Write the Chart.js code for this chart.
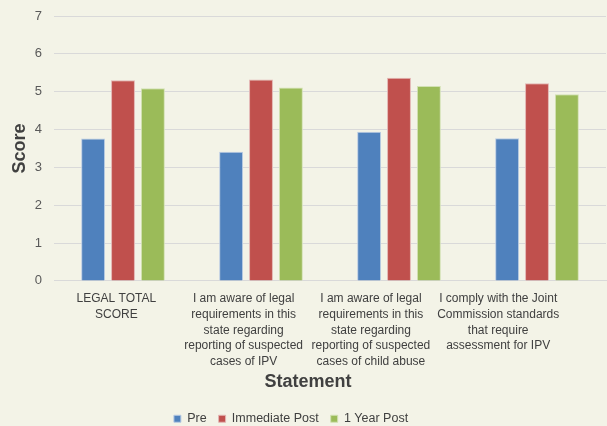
<!DOCTYPE html>
<html>
<head>
<meta charset="utf-8">
<script src="https://cdn.jsdelivr.net/npm/chart.js@4/dist/chart.umd.min.js"></script>
<style>
html,body{margin:0;padding:0;background:#f3f3e7;}
#wrap{width:607px;height:426px;position:relative;}
</style>
</head>
<body>
<div id="wrap"><canvas id="c" width="607" height="426"></canvas></div>
<script>
const categories = [
  ["LEGAL TOTAL", "SCORE"],
  ["I am aware of legal", "requirements in this", "state regarding", "reporting of suspected", "cases of IPV"],
  ["I am aware of legal", "requirements in this", "state regarding", "reporting of suspected", "cases of child abuse"],
  ["I comply with the Joint", "Commission standards", "that require", "assessment for IPV"]
];
const seriesNames = ["Pre", "Immediate Post", "1 Year Post"];
const preValues = [3.76, 3.41, 3.94, 3.77];
const immediatePostValues = [5.30, 5.32, 5.37, 5.22];
const yearPostValues = [5.09, 5.11, 5.15, 4.93];
const yTicks = [0, 1, 2, 3, 4, 5, 6, 7];
const xTitle = "Statement";
const yTitle = "Score";

const bg = {
  id: 'bg',
  beforeDraw(chart) {
    const ctx = chart.ctx;
    ctx.save();
    ctx.fillStyle = '#f3f3e7';
    ctx.fillRect(0, 0, chart.width, chart.height);
    ctx.restore();
  }
};
const boxShift = {
  id: 'boxShift',
  afterLayout(chart) {
    const lg = chart.legend;
    if (lg) { lg.left -= 13; lg.right -= 13; lg.top += 3; lg.bottom += 3; }
    const tb = chart.titleBlock;
    if (tb) { tb.left += 4; tb.right += 4; tb.top -= 6; tb.bottom -= 6; }
  }
};

const font = "'Liberation Sans', Arial, sans-serif";
new Chart(document.getElementById('c'), {
  type: 'bar',
  data: {
    labels: categories,
    datasets: [
      {label: seriesNames[0], data: preValues, backgroundColor: '#4f81bd', borderColor: '#b9cbe3', borderWidth: 1},
      {label: seriesNames[1], data: immediatePostValues, backgroundColor: '#c0504d', borderColor: '#e3b5b3', borderWidth: 1},
      {label: seriesNames[2], data: yearPostValues, backgroundColor: '#9bbb59', borderColor: '#d2e1b3', borderWidth: 1}
    ]
  },
  options: {
    responsive: false,
    animation: false,
    devicePixelRatio: 1,
    layout: {padding: {left: 2, right: 1, top: 16, bottom: -6}},
    datasets: {bar: {categoryPercentage: 0.65, barPercentage: 0.8}},
    scales: {
      x: {
        grid: {display: false, drawTicks: false},
        border: {display: true, color: '#d9d9d9', width: 1},
        ticks: {display: false}
      },
      xl: {
        type: 'linear',
        position: 'bottom',
        offset: false,
        bounds: 'data',
        min: -0.49, max: 3.847,
        afterBuildTicks(axis) { axis.ticks = categories.map((c, i) => ({value: i})); },
        grid: {display: false, drawTicks: false, offset: false},
        border: {display: false},
        ticks: {
          color: '#404040', font: {family: font, size: 12, lineHeight: 1.31}, maxRotation: 0, autoSkip: false, padding: 10,
          callback: (v) => categories[v]
        }
      },
      y: {
        min: 0, max: 7,
        afterBuildTicks(axis) { axis.ticks = yTicks.map(v => ({value: v})); },
        afterFit(axis) { axis.width = 52; axis.paddingTop = 0; },
        grid: {color: '#d9d9d9', lineWidth: 1, drawTicks: false},
        border: {display: false},
        ticks: {color: '#595959', font: {family: font, size: 13}, padding: 12},
        title: {display: true, text: yTitle, color: '#404040', font: {family: font, size: 18, weight: 'bold', lineHeight: 1}, padding: {top: 9, bottom: 0}}
      }
    },
    plugins: {
      title: {
        display: true, text: xTitle, position: 'bottom', weight: 500,
        color: '#404040', font: {family: font, size: 18, weight: 'bold', lineHeight: 1}, padding: {top: 0, bottom: 0}
      },
      legend: {
        position: 'bottom',
        labels: {color: '#404040', font: {family: font, size: 12.5}, boxWidth: 7, boxHeight: 7, padding: 12}
      },
      tooltip: {enabled: false}
    }
  },
  plugins: [bg, boxShift]
});
</script>
</body>
</html>
